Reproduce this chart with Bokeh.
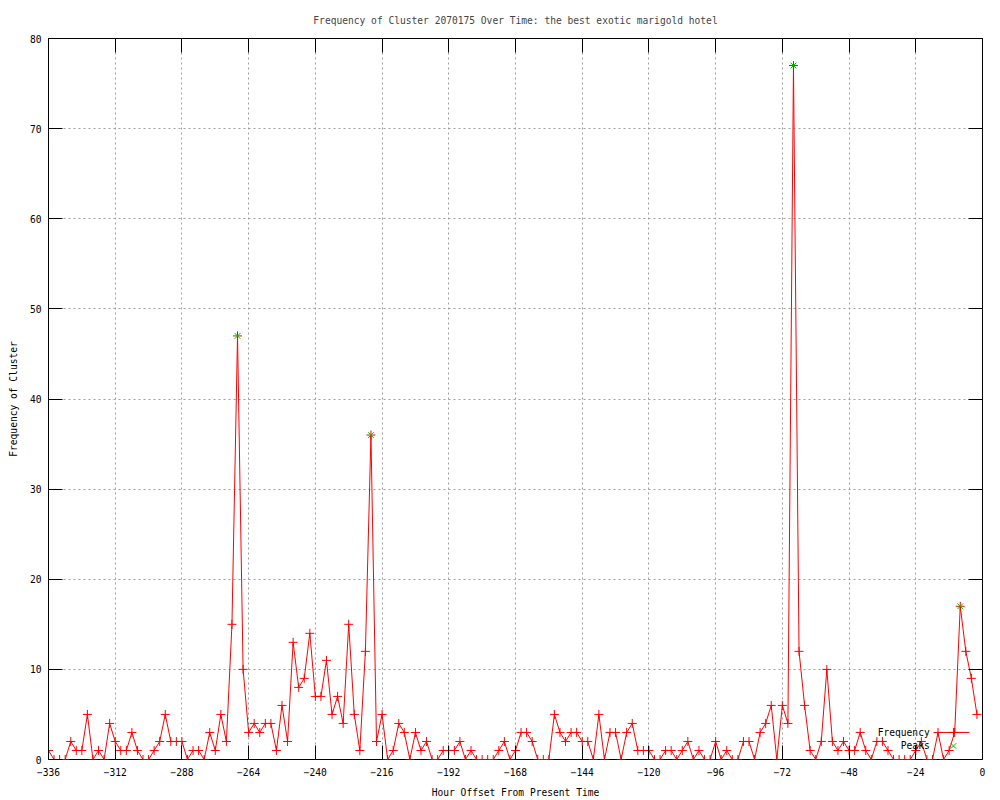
from bokeh.plotting import figure
from bokeh.models import FixedTicker, LinearAxis, Range1d, Label, CustomJSTickFormatter
from bokeh.embed import file_html
from bokeh.resources import INLINE

# ---------------- data ----------------
hours = list(range(-336, 0, 2))  # hour offsets of the samples (-336 .. -2)

frequency = [
    1, 0, 0, 0, 2, 1, 1, 5, 0, 1, 0, 4,
    2, 1, 1, 3, 1, 0, 0, 1, 2, 5, 2, 2,
    2, 0, 1, 1, 0, 3, 1, 5, 2, 15, 47, 10,
    3, 4, 3, 4, 4, 1, 6, 2, 13, 8, 9, 14,
    7, 7, 11, 5, 7, 4, 15, 5, 1, 12, 36, 2,
    5, 0, 1, 4, 3, 0, 3, 1, 2, 0, 0, 1,
    1, 1, 2, 0, 1, 0, 0, 0, 0, 1, 2, 0,
    1, 3, 3, 2, 0, 0, 0, 5, 3, 2, 3, 3,
    2, 2, 0, 5, 0, 3, 3, 0, 3, 4, 1, 1,
    1, 0, 0, 1, 1, 0, 1, 2, 0, 1, 0, 0,
    2, 0, 1, 0, 0, 2, 2, 0, 3, 4, 6, 0,
    6, 4, 77, 12, 6, 1, 0, 2, 10, 2, 1, 2,
    1, 1, 3, 1, 0, 2, 2, 1, 0, 0, 0, 0,
    1, 2, 0, 0, 3, 0, 1, 3, 17, 12, 9, 5,
]

peak_hours = [-268, -220, -68, -8]
peak_values = [47, 36, 77, 17]

x_ticks = [-336, -312, -288, -264, -240, -216, -192, -168, -144, -120, -96, -72, -48, -24, 0]
y_ticks = [0, 10, 20, 30, 40, 50, 60, 70, 80]

title_text = "Frequency of Cluster 2070175 Over Time: the best exotic marigold hotel"
x_label = "Hour Offset From Present Time"
y_label = "Frequency of Cluster"
legend_labels = ["Frequency", "Peaks"]

# ---------------- style ----------------
FONT = "DejaVu Sans Mono"
FS = "9.6px"
RED = "#ff0000"
GREEN = "#00c000"
GRID = "#a0a0a0"
TICK = 14

p = figure(width=992, height=800, output_backend="svg", toolbar_location=None,
           x_range=Range1d(-336, 0), y_range=Range1d(0, 80),
           min_border_left=48, min_border_right=10, min_border_top=38, min_border_bottom=40)

p.title.text = title_text
p.title.align = "center"
p.title.text_font = FONT
p.title.text_font_size = FS
p.title.text_font_style = "normal"
p.title.standoff = 25

p.outline_line_color = "black"
p.outline_line_width = 1
p.background_fill_color = "white"
p.border_fill_color = "white"

for ax, ticks in ((p.xaxis[0], x_ticks), (p.yaxis[0], y_ticks)):
    ax.ticker = FixedTicker(ticks=ticks)
    ax.major_tick_in = TICK
    ax.major_tick_out = 0
    ax.minor_tick_in = 0
    ax.minor_tick_out = 0
    ax.major_tick_line_color = "black"
    ax.axis_line_color = None
    ax.major_label_text_font = FONT
    ax.major_label_text_font_size = FS
    ax.major_label_text_color = "black"
    ax.axis_label_text_font = FONT
    ax.axis_label_text_font_size = FS
    ax.axis_label_text_font_style = "normal"
    ax.axis_label_text_color = "black"

p.xaxis.axis_label = x_label
p.xaxis.major_label_standoff = 8
p.xaxis.axis_label_standoff = 8
p.yaxis.axis_label = y_label
p.yaxis.major_label_standoff = 7
p.yaxis.axis_label_standoff = 8

# mirror ticks on top and right
for loc, ticks in (("above", x_ticks), ("right", y_ticks)):
    ax = LinearAxis(ticker=FixedTicker(ticks=ticks), major_tick_in=TICK, major_tick_out=0,
                    minor_tick_in=0, minor_tick_out=0, axis_line_color=None,
                    major_label_text_font_size="0px", major_label_standoff=0,
                    formatter=CustomJSTickFormatter(code="return ''"))
    p.add_layout(ax, loc)

p.xgrid.ticker = FixedTicker(ticks=x_ticks)
p.ygrid.ticker = FixedTicker(ticks=y_ticks)
for g in (p.xgrid[0], p.ygrid[0]):
    g.grid_line_color = GRID
    g.grid_line_dash = "2 3"
    g.grid_line_width = 1

# data line with + markers
p.line(hours, frequency, line_color=RED, line_width=1)
p.scatter(hours, frequency, marker="cross", size=9, line_color=RED, line_width=1)

# peaks
p.scatter(peak_hours, peak_values, marker="x", size=8, line_color=GREEN, line_width=1)

# legend (gnuplot style: text on the left, sample on the right)
LEG_TEXT_X = -19.0
LEG_SAMPLE_X0, LEG_SAMPLE_X1 = -16.2, -4.7
LEG_Y1, LEG_Y2 = 3.0, 1.5
p.add_layout(Label(x=LEG_TEXT_X, y=LEG_Y1, text=legend_labels[0], text_align="right",
                   text_baseline="middle", text_font=FONT, text_font_size=FS, text_color="black"))
p.add_layout(Label(x=LEG_TEXT_X, y=LEG_Y2, text=legend_labels[1], text_align="right",
                   text_baseline="middle", text_font=FONT, text_font_size=FS, text_color="black"))
p.line([LEG_SAMPLE_X0, LEG_SAMPLE_X1], [LEG_Y1, LEG_Y1], line_color=RED, line_width=1)
p.scatter([(LEG_SAMPLE_X0 + LEG_SAMPLE_X1) / 2], [LEG_Y1], marker="cross", size=9, line_color=RED)
p.scatter([(LEG_SAMPLE_X0 + LEG_SAMPLE_X1) / 2], [LEG_Y2], marker="x", size=8, line_color=GREEN)

open("out.html", "w").write(file_html(p, INLINE))
